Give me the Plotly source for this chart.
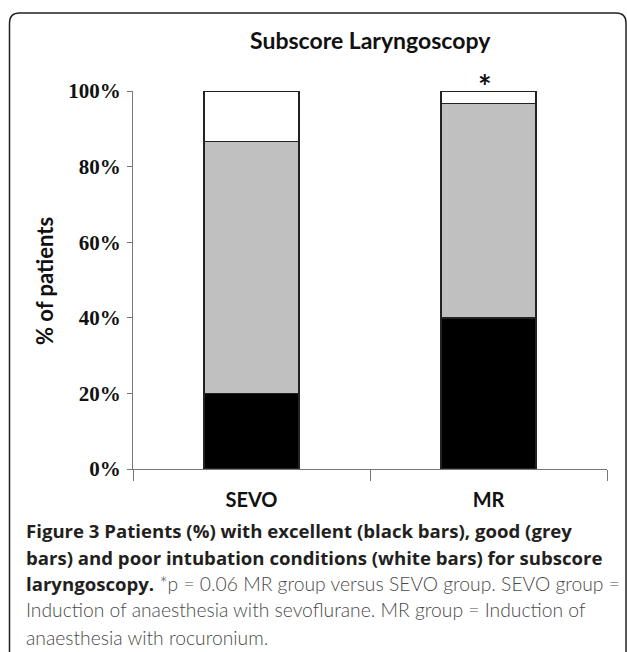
import plotly.graph_objects as go

# ---- data ----
groups = ["SEVO", "MR"]
excellent = [20.0, 40.0]      # black bars
good = [66.7, 56.7]           # grey bars
poor = [13.3, 3.3]            # white bars
y_ticks = [0, 20, 40, 60, 80, 100]
y_tick_labels = [f"{v}%" for v in y_ticks]

title_text = "Subscore Laryngoscopy"
ytitle_text = "% of patients"
BOLD = "<span style='font-family:Open Sans;font-weight:bold;font-size:18.6px;color:#231f20'>"
LIGHT = "<span style='color:#4a4a4a'>"
caption_lines = [
    BOLD + "Figure 3 Patients (%) with excellent (black bars), good (grey</span>",
    BOLD + "bars) and poor intubation conditions (white bars) for subscore</span>",
    BOLD + "laryngoscopy.</span> " + LIGHT + "*p = 0.06 MR group versus SEVO group. SEVO group =</span>",
    LIGHT + "Induction of anaesthesia with sevoflurane. MR group = Induction of</span>",
    LIGHT + "anaesthesia with rocuronium.</span>",
]

# ---- layout geometry (pixels) ----
W, H = 627, 652
L, R, T, B = 133, 607, 91, 469


def px(xp):
    return (xp - L) / (R - L)


def py(yp):
    return (B - yp) / (B - T)


fig = go.Figure()
line_style = dict(color="#222222", width=1.5)
fig.add_bar(x=groups, y=excellent, name="excellent",
            marker=dict(color="#000000", line=line_style))
fig.add_bar(x=groups, y=good, name="good",
            marker=dict(color="#c0c0c0", line=line_style))
fig.add_bar(x=groups, y=poor, name="poor",
            marker=dict(color="#ffffff", line=line_style))

fig.update_layout(
    width=W, height=H,
    margin=dict(l=L, r=W - R, t=T, b=H - B, pad=0),
    barmode="stack", bargap=0.6,
    showlegend=False,
    paper_bgcolor="white", plot_bgcolor="white",
)
fig.update_yaxes(
    range=[0, 100], tickvals=y_ticks, ticktext=y_tick_labels,
    showgrid=False, zeroline=False,
    showline=True, linecolor="#777777", linewidth=1,
    ticks="outside", ticklen=5, tickcolor="#777777", tickwidth=1,
    ticklabelstandoff=2,
    tickfont=dict(family="Liberation Serif", size=21, color="#111111", weight="bold"),
)
fig.update_xaxes(
    showgrid=False, zeroline=False,
    showline=True, linecolor="#777777", linewidth=1,
    ticks="outside", ticklen=11, tickcolor="#777777", tickwidth=1,
    tickson="boundaries", ticklabelstandoff=13,
    tickfont=dict(family="Lato", size=20, color="#111111", weight="bold"),
)

# title
fig.add_annotation(text=title_text, xref="paper", yref="paper",
                   x=px(370), y=py(40), xanchor="center", yanchor="middle",
                   showarrow=False,
                   font=dict(family="Lato", size=23, color="#111111", weight="bold"))
# y-axis title
fig.add_annotation(text=ytitle_text, xref="paper", yref="paper",
                   x=px(44), y=py(281), xanchor="center", yanchor="middle",
                   textangle=-90, showarrow=False,
                   font=dict(family="Lato", size=22, color="#111111", weight="bold"))
# significance asterisk above MR bar
fig.add_annotation(text="*", x=groups[1], y=100, yref="y",
                   yanchor="bottom", yshift=-17, xshift=-4, showarrow=False,
                   font=dict(family="Lato", size=32, color="#111111", weight="bold"))

# caption
cap_y = [530, 557, 583, 609, 637]
for txt, yy in zip(caption_lines, cap_y):
    fig.add_annotation(text=txt, xref="paper", yref="paper",
                       x=px(24), y=py(yy), xanchor="left", yanchor="middle",
                       showarrow=False,
                       font=dict(family="Lato", size=19.3, color="#231f20", weight=300))

# rounded frame
x0, x1 = px(9.5), px(626)
yt, yb = py(13), py(660)
rx, ry = 10 / (R - L), 10 / (B - T)
path = (f"M {x0},{yb} L {x0},{yt - ry} Q {x0},{yt} {x0 + rx},{yt} "
        f"L {x1 - rx},{yt} Q {x1},{yt} {x1},{yt - ry} L {x1},{yb}")
fig.add_shape(type="path", xref="paper", yref="paper", path=path,
              line=dict(color="#222222", width=1.5))

fig.write_html("out.html",
               config={"displayModeBar": False},
               post_script="document.body.style.margin='0';document.body.style.padding='0';")
